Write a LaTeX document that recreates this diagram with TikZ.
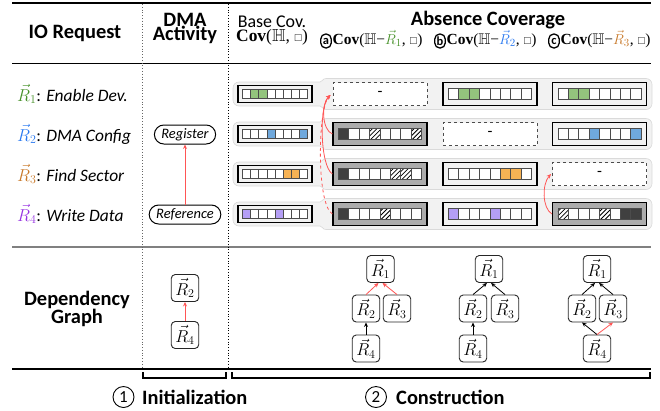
\documentclass[tikz,border=0pt]{standalone}
\usepackage{fontspec}
\usepackage{amssymb}
\setmainfont{Carlito}
\newfontfamily\tnr{Liberation Serif}
\usetikzlibrary{arrows.meta}

\definecolor{bandfill}{RGB}{242,242,242}
\definecolor{bandline}{RGB}{218,218,218}
\definecolor{boxgray}{RGB}{172,172,172}
\definecolor{cdark}{RGB}{64,64,64}
\definecolor{cgreen}{RGB}{147,196,125}
\definecolor{cblue}{RGB}{111,168,220}
\definecolor{corange}{RGB}{246,178,84}
\definecolor{cpurple}{RGB}{180,158,245}
\definecolor{rone}{RGB}{70,145,40}
\definecolor{rtwo}{RGB}{40,120,240}
\definecolor{rthree}{RGB}{200,120,40}
\definecolor{rfour}{RGB}{150,50,225}
\definecolor{linkred}{RGB}{255,85,85}

\newcommand\vR[1]{\vec{R}_{#1}}
% Cov(H <extra>, square) in a serif face
\newcommand\covtext[1]{{\tnr\textbf{Cov}($\mathbb{H}$#1, {\fontsize{10}{10}\selectfont$\square$})}}
\newcommand\minus{{\tnr −}}
% a row of eight coverage cells centred at (#1,#2), cell size #3 x #4
\newcommand\cells[5]{%
  \foreach \t [count=\i] in {#5} {
    \path[cell,cell\t] ({#1+(\i-5)*#3}, {#2-#4/2}) rectangle ++(#3,#4);
  }}
% light band behind one request row, centred at height #1
\newcommand\band[1]{%
  \path[band] (233,#1) -- (233,{#1-12}) -- (314,{#1-12})
    .. controls (323,{#1-12}) and (322,{#1-15.5}) .. (332,{#1-15.5})
    -- (652,{#1-15.5}) -- (652,{#1+15.5}) -- (332,{#1+15.5})
    .. controls (322,{#1+15.5}) and (323,{#1+12}) .. (314,{#1+12})
    -- (233,{#1+12}) -- cycle;}

\begin{document}
\begin{tikzpicture}[x=1bp,y=-1bp,
  hdr/.style={font=\fontsize{20.5}{22}\selectfont\bfseries, inner sep=0},
  sub/.style={font=\fontsize{18}{20}\selectfont, inner sep=0},
  rowlab/.style={font=\fontsize{17.5}{20}\selectfont, inner sep=0, anchor=base west},
  covlab/.style={inner sep=0, font=\fontsize{15.5}{16}\selectfont},
  band/.style={fill=bandfill, draw=bandline, line width=0.6pt, rounded corners=6bp},
  basebox/.style={draw=black, line width=1.2pt, fill=bandfill, minimum width=74bp, minimum height=17bp, inner sep=0},
  absbox/.style={draw=black, line width=1.2pt, fill=bandfill, minimum width=94bp, minimum height=23bp, inner sep=0},
  darkbox/.style={absbox, fill=boxgray},
  emptybox/.style={absbox, fill=white, draw=black!70, dashed, line width=1pt, font=\fontsize{16}{16}\selectfont},
  cell/.style={draw=black!70, line width=0.7pt},
  cellw/.style={fill=white},
  cellG/.style={fill=cgreen},
  cellB/.style={fill=cblue},
  cellO/.style={fill=corange},
  cellP/.style={fill=cpurple},
  cellD/.style={fill=cdark},
  cellH/.style={fill=white, path picture={
      \foreach \k in {-8,-3.5,1,5.5}
        \draw[line width=0.8pt, black]
          ([xshift=\k bp]path picture bounding box.south west) -- ++(45:20bp);}},
  pill/.style={draw=black, line width=1pt, rounded corners=9.5bp, minimum height=19bp, inner xsep=7bp, inner ysep=0, fill=white, font=\fontsize{14.5}{14}\selectfont\itshape},
  dag/.style={draw=black!85, line width=0.9pt, rounded corners=4bp, minimum width=27.5bp, minimum height=27bp, inner sep=0, fill=white, font=\fontsize{18}{18}\selectfont},
  arr/.style={-{Stealth[length=4.5bp,width=4bp]}, line width=0.8pt},
  link/.style={arr, draw=linkred, color=linkred},
  ring/.style={draw=black, line width=1.3pt, rounded corners=5bp, minimum width=10.5bp, minimum height=14bp, inner sep=0, font=\fontsize{12.5}{13}\selectfont\bfseries},
  numring/.style={circle, draw=black, line width=0.9pt, minimum size=21bp, inner sep=0, font=\fontsize{17}{17}\selectfont},
]
\useasboundingbox (0,0) rectangle (660,410);

% rules and column separators
\draw[line width=2pt] (12,3) -- (651,3);
\draw[line width=0.8pt] (12,63) -- (651,63);
\draw[line width=1.5pt, black!50] (12,247) -- (651,247);
\draw[line width=1.6pt] (12,369) -- (651,369);
\draw[dotted, black!60, line width=0.8pt] (142,4) -- (142,368);
\draw[dotted, line width=0.8pt] (228,4) -- (228,368);

% column headings
\node[hdr] (hio) at (75,33) {IO Request};
\node[hdr, anchor=base] (hdma) at (185,26.7) {DMA};
\node[hdr, anchor=base] (hact) at (185,40) {Activity};
\node[sub, anchor=base] (hbase) at (272,27.5) {Base Cov.};
\node[covlab, anchor=base, font=\fontsize{17.5}{18}\selectfont] (hbasecov) at (272,41.5) {\covtext{}};
\node[hdr, anchor=base] (habs) at (488,25) {Absence Coverage};
\node[ring] (ra) at (326,41) {a};
\node[covlab, anchor=base west] (ta) at (332.5,44) {\covtext{\minus\textcolor{rone}{$\vR{1}$}}};
\node[ring] (rb) at (440,41) {b};
\node[covlab, anchor=base west] (tb) at (446.5,44) {\covtext{\minus\textcolor{rtwo}{$\vR{2}$}}};
\node[ring] (rc) at (554,41) {c};
\node[covlab, anchor=base west] (tc) at (560.5,44) {\covtext{\minus\textcolor{rthree}{$\vR{3}$}}};

% request labels
\node[rowlab] (l1) at (17,101) {\textcolor{rone}{$\vR{1}$}: \textit{Enable Dev.}};
\node[rowlab] (l2) at (17,141) {\textcolor{rtwo}{$\vR{2}$}: \textit{DMA Config}};
\node[rowlab] (l3) at (17,181) {\textcolor{rthree}{$\vR{3}$}: \textit{Find Sector}};
\node[rowlab] (l4) at (17,221) {\textcolor{rfour}{$\vR{4}$}: \textit{Write Data}};

% DMA activity
\node[pill] (reg) at (185,134.5) {Register};
\node[pill] (ref) at (185,214.5) {Reference};
\draw[link, line width=1pt] (ref.north) -- (reg.south);

% row bands
\band{94}
\band{134}
\band{174}
\band{214}

% row 1
\node[basebox] (s1) at (275,94) {}; \cells{275}{94}{8.1}{9.5}{w,G,G,w,w,w,w,w}
\node[emptybox] (a1) at (380,94) {-};
\node[absbox] (b1) at (490,94) {}; \cells{490}{94}{10.4}{11}{w,G,G,w,w,w,w,w}
\node[absbox] (c1) at (599.5,94) {}; \cells{599.5}{94}{10.4}{11}{w,G,G,w,w,w,w,w}
% row 2
\node[basebox] (s2) at (275,134) {}; \cells{275}{134}{8.1}{9.5}{w,w,w,B,w,w,w,B}
\node[darkbox] (a2) at (380,134) {}; \cells{380}{134}{10.4}{11}{D,w,w,H,w,w,w,H}
\node[emptybox] (b2) at (490,134) {-};
\node[absbox] (c2) at (599.5,134) {}; \cells{599.5}{134}{10.4}{11}{w,w,w,B,w,w,w,B}
% row 3
\node[basebox] (s3) at (275,174) {}; \cells{275}{174}{8.1}{9.5}{w,w,w,w,w,O,O,w}
\node[darkbox] (a3) at (380,174) {}; \cells{380}{174}{10.4}{11}{D,w,w,w,w,H,H,w}
\node[absbox] (b3) at (490,174) {}; \cells{490}{174}{10.4}{11}{w,w,w,w,w,O,O,w}
\node[emptybox] (c3) at (599.5,174) {-};
% row 4
\node[basebox] (s4) at (275,214) {}; \cells{275}{214}{8.1}{9.5}{P,w,w,w,P,w,w,w}
\node[darkbox] (a4) at (380,214) {}; \cells{380}{214}{10.4}{11}{D,w,w,w,H,w,w,w}
\node[absbox] (b4) at (490,214) {}; \cells{490}{214}{10.4}{11}{P,w,w,w,P,w,w,w}
\node[darkbox] (c4) at (599.5,214) {}; \cells{599.5}{214}{10.4}{11}{H,w,w,w,H,w,D,D}

% links between absence columns
\coordinate (a1in) at ([xshift=-2bp,yshift=-1bp]a1.west);
\draw[link] (a2.west) .. controls (322,130) and (321,104) .. (a1in);
\draw[link] (a3.west) .. controls (320,166) and (319,106) .. (a1in);
\draw[link, dashed] (a4.west) .. controls (316,204) and (318,108) .. (a1in);
\coordinate (c3in) at ([xshift=-1bp]c3.west);
\draw[link] (c4.west) .. controls (542,208) and (542,184) .. (c3in);

% dependency graphs
\node[hdr, anchor=base] (hdep) at (77,305) {Dependency};
\node[hdr, anchor=base] (hgraph) at (77,323) {Graph};

\node[dag] (d2) at (185,288) {$\vR{2}$};
\node[dag] (d4) at (185,335) {$\vR{4}$};
\draw[link] (d4.north) -- (d2.south);

\node[dag] (ga1) at (380.5,269) {$\vR{1}$};
\node[dag] (ga2) at (366,308.5) {$\vR{2}$};
\node[dag] (ga3) at (397,308.5) {$\vR{3}$};
\node[dag] (ga4) at (366,348.5) {$\vR{4}$};
\draw[link] (ga2.north) -- ([xshift=-2bp]ga1.south);
\draw[link] (ga3.north) -- ([xshift=2bp]ga1.south);
\draw[arr] (ga4.north) -- (ga2.south);

\node[dag] (gb1) at (489,269) {$\vR{1}$};
\node[dag] (gb2) at (473,308.5) {$\vR{2}$};
\node[dag] (gb3) at (505,308.5) {$\vR{3}$};
\node[dag] (gb4) at (473,348.5) {$\vR{4}$};
\draw[arr] (gb2.north) -- ([xshift=-2bp]gb1.south);
\draw[arr] (gb3.north) -- ([xshift=2bp]gb1.south);
\draw[arr] (gb4.north) -- (gb2.south);

\node[dag] (gc1) at (597,269) {$\vR{1}$};
\node[dag] (gc2) at (582,308.5) {$\vR{2}$};
\node[dag] (gc3) at (613,308.5) {$\vR{3}$};
\node[dag] (gc4) at (597,348.5) {$\vR{4}$};
\draw[arr] (gc2.north) -- ([xshift=-2bp]gc1.south);
\draw[arr] (gc3.north) -- ([xshift=2bp]gc1.south);
\draw[arr] (gc4.north) -- (gc2.south);
\draw[link] (gc4.north) -- (gc3.south);

% phase brackets
\draw[line width=1.2pt] (143,372) -- (143,378) -- (226,378) -- (226,372);
\draw[line width=1.2pt] (232,372) -- (232,378) -- (650,378) -- (650,372);
\node[numring] (n1) at (123.5,397) {1};
\node[hdr, anchor=west] (tinit) at (142,397) {Initialization};
\node[numring] (n2) at (376,397) {2};
\node[hdr, anchor=west] (tcons) at (396,397) {Construction};
\end{tikzpicture}
\end{document}
